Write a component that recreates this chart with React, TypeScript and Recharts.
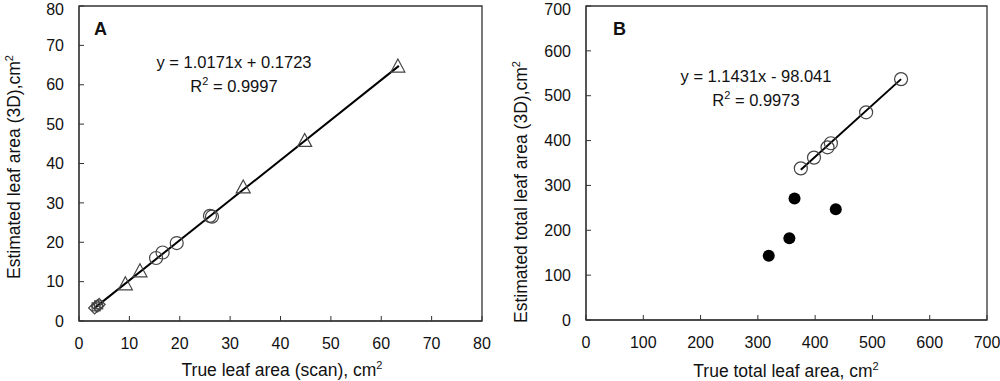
import React from "react"
import {
  ScatterChart,
  Scatter,
  XAxis,
  YAxis,
  ReferenceArea,
  Label,
  Customized,
} from "recharts"

// Panel A: leaf area, individual leaves
const aDiamondX = [3.1, 3.6, 4.0]
const aDiamondY = [3.3, 3.8, 4.2]
const aSquareX = [3.4, 3.9]
const aSquareY = [3.6, 4.1]
const aTriangleX = [9.2, 12.1, 32.6, 44.8, 63.3]
const aTriangleY = [9.2, 12.5, 33.8, 45.6, 64.5]
const aCircleX = [15.3, 16.6, 19.4, 26.0, 26.4]
const aCircleY = [16.0, 17.4, 19.8, 26.7, 26.5]
const aFitX = [3, 63.5]
const aFitY = [3.2, 64.8]
const aTicks = [0, 10, 20, 30, 40, 50, 60, 70, 80]

// Panel B: total leaf area per plant
const bOpenX = [375, 398, 421.6, 427.5, 489, 550]
const bOpenY = [338, 362, 385, 394, 463, 537]
const bFilledX = [364, 436, 355, 319]
const bFilledY = [271, 247, 182, 143]
const bFitX = [375, 550]
const bFitY = [335, 537]
const bTicks = [0, 100, 200, 300, 400, 500, 600, 700]

const zip = (xs: number[], ys: number[]) => xs.map((x, i) => ({ x, y: ys[i] }))

const FONT = "'Liberation Sans', Arial, sans-serif"
const FRAME = "#333"
const MARK = "#444"

const Triangle = (p: any) => (
  <path
    d={`M${p.cx},${p.cy - 8} L${p.cx + 7},${p.cy + 5} L${p.cx - 7},${p.cy + 5} Z`}
    fill="none"
    stroke={MARK}
    strokeWidth={1.2}
  />
)
const OpenCircle = (p: any) => (
  <circle cx={p.cx} cy={p.cy} r={6.5} fill="none" stroke={MARK} strokeWidth={1.2} />
)
const FilledCircle = (p: any) => <circle cx={p.cx} cy={p.cy} r={6} fill="#000" />
const Diamond = (p: any) => (
  <path
    d={`M${p.cx},${p.cy - 6} L${p.cx + 6},${p.cy} L${p.cx},${p.cy + 6} L${p.cx - 6},${p.cy} Z`}
    fill="none"
    stroke={MARK}
    strokeWidth={1.2}
  />
)
const Square = (p: any) => (
  <rect x={p.cx - 4} y={p.cy - 4} width={8} height={8} fill="none" stroke={MARK} strokeWidth={1.2} />
)
const NoMark = () => <g />

const tickStyle = { fontSize: 16, fill: "#111", fontFamily: FONT }

const Sup = ({ base, sup, rest }: { base: string; sup: string; rest?: string }) => (
  <>
    {base}
    <tspan dy={-7} fontSize={11}>
      {sup}
    </tspan>
    {rest ? <tspan dy={7}>{rest}</tspan> : null}
  </>
)

const PanelTexts = ({ letter, lx, eq, r2, ex, ey }: any) => (
  <g fontFamily={FONT} fill="#111">
    <text x={lx} y={35} fontSize={18} fontWeight="bold">
      {letter}
    </text>
    <text x={ex} y={ey} fontSize={16.5} textAnchor="middle">
      {eq}
    </text>
    <text x={ex} y={ey + 24} fontSize={16.5} textAnchor="middle">
      <Sup base="R" sup="2" rest={` = ${r2}`} />
    </text>
  </g>
)

const AxisTitle = ({ x, y, text, rotate }: any) => (
  <text
    x={x}
    y={y}
    fontSize={17.5}
    fontFamily={FONT}
    fill="#111"
    textAnchor="middle"
    transform={rotate ? `rotate(-90, ${x}, ${y})` : undefined}
  >
    <Sup base={text} sup="2" />
  </text>
)

const PanelA = () => (
  <ScatterChart width={500} height={381} margin={{ top: 6, right: 18, bottom: 0, left: 0 }}>
    <XAxis
      type="number"
      dataKey="x"
      domain={[0, 80]}
      ticks={aTicks}
      height={60}
      tickSize={-5}
      tickMargin={22}
      tick={tickStyle}
      stroke={FRAME}
      allowDataOverflow
    >
      <Label content={() => <AxisTitle x={282} y={376} text="True leaf area (scan), cm" />} />
    </XAxis>
    <YAxis
      type="number"
      dataKey="y"
      domain={[0, 80]}
      ticks={aTicks}
      width={79}
      tickSize={-5}
      tickMargin={20}
      tick={tickStyle}
      stroke={FRAME}
      allowDataOverflow
    >
      <Label content={() => <AxisTitle x={20} y={167} text="Estimated leaf area (3D),cm" rotate />} />
    </YAxis>
    <ReferenceArea x1={0} x2={80} y1={0} y2={80} fill="none" stroke={FRAME} strokeWidth={1.3} />
    <Scatter data={zip(aFitX, aFitY)} line={{ stroke: "#000", strokeWidth: 2 }} shape={NoMark} isAnimationActive={false} />
    <Scatter data={zip(aDiamondX, aDiamondY)} shape={Diamond} isAnimationActive={false} />
    <Scatter data={zip(aSquareX, aSquareY)} shape={Square} isAnimationActive={false} />
    <Scatter data={zip(aTriangleX, aTriangleY)} shape={Triangle} isAnimationActive={false} />
    <Scatter data={zip(aCircleX, aCircleY)} shape={OpenCircle} isAnimationActive={false} />
    <Customized
      component={() => (
        <PanelTexts letter="A" lx={94} eq="y = 1.0171x + 0.1723" r2="0.9997" ex={234} ey={68} />
      )}
    />
  </ScatterChart>
)

const PanelB = () => (
  <ScatterChart width={500} height={381} margin={{ top: 6, right: 13, bottom: 0, left: 0 }}>
    <XAxis
      type="number"
      dataKey="x"
      domain={[0, 700]}
      ticks={bTicks}
      height={61}
      tickSize={-5}
      tickMargin={22}
      tick={tickStyle}
      stroke={FRAME}
      allowDataOverflow
    >
      <Label content={() => <AxisTitle x={286} y={377} text="True total leaf area, cm" />} />
    </XAxis>
    <YAxis
      type="number"
      dataKey="y"
      domain={[0, 700]}
      ticks={bTicks}
      width={86}
      tickSize={-5}
      tickMargin={20}
      tick={tickStyle}
      stroke={FRAME}
      allowDataOverflow
    >
      <Label content={() => <AxisTitle x={27} y={192} text="Estimated total leaf area (3D),cm" rotate />} />
    </YAxis>
    <ReferenceArea x1={0} x2={700} y1={0} y2={700} fill="none" stroke={FRAME} strokeWidth={1.3} />
    <Scatter data={zip(bFitX, bFitY)} line={{ stroke: "#000", strokeWidth: 2 }} shape={NoMark} isAnimationActive={false} />
    <Scatter data={zip(bOpenX, bOpenY)} shape={OpenCircle} isAnimationActive={false} />
    <Scatter data={zip(bFilledX, bFilledY)} shape={FilledCircle} isAnimationActive={false} />
    <Customized
      component={() => (
        <PanelTexts letter="B" lx={113} eq="y = 1.1431x - 98.041" r2="0.9973" ex={256} ey={82} />
      )}
    />
  </ScatterChart>
)

export default function App() {
  return (
    <div style={{ position: "absolute", left: 0, top: 0, width: 1000, height: 381, background: "#fff", display: "flex" }}>
      <PanelA />
      <PanelB />
    </div>
  )
}
